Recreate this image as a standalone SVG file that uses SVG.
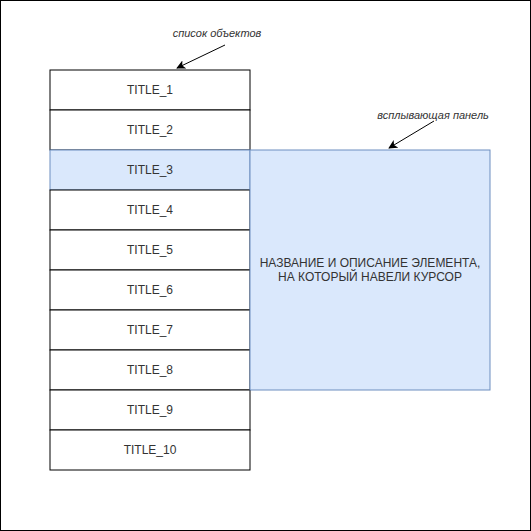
<svg xmlns="http://www.w3.org/2000/svg" width="531" height="531" viewBox="0 0 531 531">
<defs>
<style>
.row{fill:#ffffff;stroke:#000000;stroke-width:1}
.hl{fill:#dae8fc;stroke:#6c8ebf;stroke-width:1}
.t{font-family:"Liberation Sans",Arial,sans-serif;font-size:12px;fill:#333333;text-anchor:middle;dominant-baseline:central}
.note{font-family:"Liberation Sans",Arial,sans-serif;font-size:11px;font-style:italic;fill:#333333;text-anchor:middle;dominant-baseline:central}
.conn{stroke:#000000;stroke-width:1;fill:none;marker-end:url(#arr)}
</style>
<marker id="arr" viewBox="0 0 10 10" refX="9" refY="5" markerWidth="9" markerHeight="9" orient="auto" markerUnits="userSpaceOnUse">
<path d="M0,0 L10,5 L0,10 L2.5,5 Z" fill="#000000"/>
</marker>
</defs>
<rect x="0.5" y="0.5" width="530" height="530" fill="#ffffff" stroke="#000000"/>
<g id="row1"><rect class="row" x="50" y="70" width="200" height="40"/><text class="t" x="150" y="90">TITLE_1</text></g>
<g id="row2"><rect class="row" x="50" y="110" width="200" height="40"/><text class="t" x="150" y="130">TITLE_2</text></g>
<g id="row3"><rect class="hl" x="50" y="150" width="200" height="40"/><text class="t" x="150" y="170">TITLE_3</text></g>
<g id="row4"><rect class="row" x="50" y="190" width="200" height="40"/><text class="t" x="150" y="210">TITLE_4</text></g>
<g id="row5"><rect class="row" x="50" y="230" width="200" height="40"/><text class="t" x="150" y="250">TITLE_5</text></g>
<g id="row6"><rect class="row" x="50" y="270" width="200" height="40"/><text class="t" x="150" y="290">TITLE_6</text></g>
<g id="row7"><rect class="row" x="50" y="310" width="200" height="40"/><text class="t" x="150" y="330">TITLE_7</text></g>
<g id="row8"><rect class="row" x="50" y="350" width="200" height="40"/><text class="t" x="150" y="370">TITLE_8</text></g>
<g id="row9"><rect class="row" x="50" y="390" width="200" height="40"/><text class="t" x="150" y="410">TITLE_9</text></g>
<g id="row10"><rect class="row" x="50" y="430" width="200" height="40"/><text class="t" x="150" y="450">TITLE_10</text></g>
<g id="panel"><rect class="hl" x="250" y="150" width="240" height="240"/>
<text class="t" x="370" y="263">НАЗВАНИЕ И ОПИСАНИЕ ЭЛЕМЕНТА,</text>
<text class="t" x="370" y="277">НА КОТОРЫЙ НАВЕЛИ КУРСОР</text></g>
<g id="note-list"><text class="note" x="217" y="33">список объектов</text></g>
<g id="note-panel"><text class="note" x="433" y="115">всплывающая панель</text></g>
<g id="connectors">
<line class="conn" x1="225" y1="45" x2="177" y2="68"/>
<line class="conn" x1="434" y1="121" x2="389" y2="148"/>
</g>
</svg>
